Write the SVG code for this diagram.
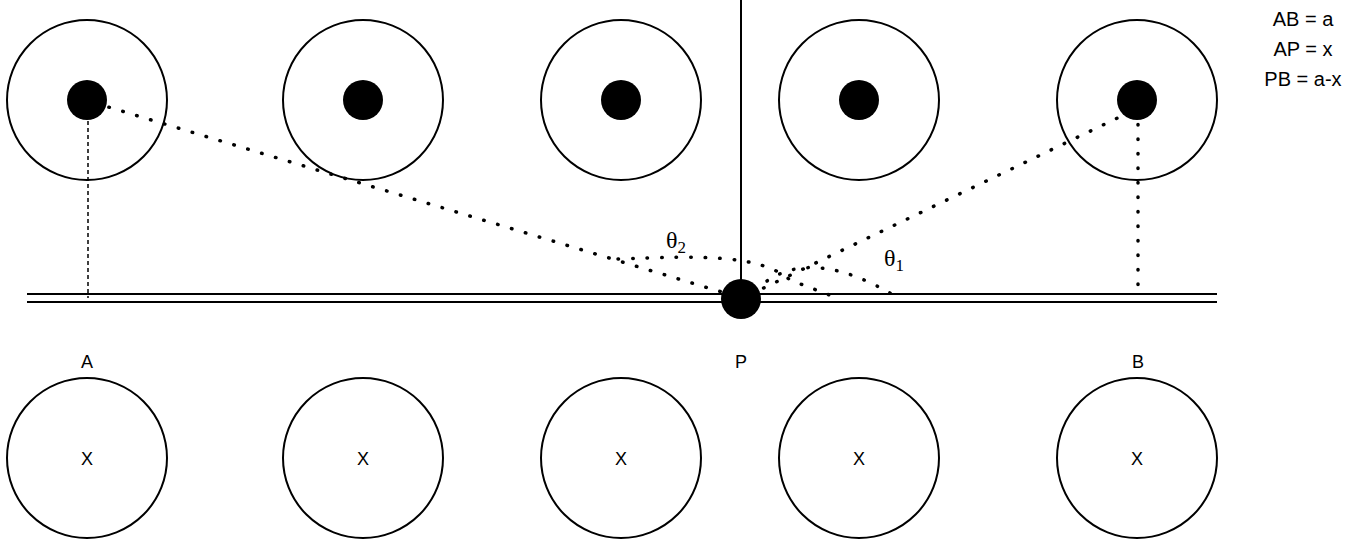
<svg xmlns="http://www.w3.org/2000/svg" width="1353" height="543" viewBox="0 0 1353 543">
<style>
.c{fill:#fff;stroke:#000;stroke-width:2}
.t{font-family:"Liberation Sans",Arial,sans-serif;font-size:18px;fill:#000;text-anchor:middle}
.l{font-family:"Liberation Sans",Arial,sans-serif;font-size:20px;fill:#000;text-anchor:middle}
.th{font-family:"Liberation Serif",serif;font-size:24px;fill:#000}
.d{fill:none;stroke:#000;stroke-width:3.5;stroke-dasharray:0.5 14;stroke-linecap:round}
</style>
<rect width="1353" height="543" fill="#fff"/>
<g id="top">
<g id="t1"><circle class="c" cx="87" cy="100" r="80"/><circle cx="87" cy="100" r="20"/></g>
<g id="t2"><circle class="c" cx="363" cy="100" r="80"/><circle cx="363" cy="100" r="20"/></g>
<g id="t3"><circle class="c" cx="621" cy="100" r="80"/><circle cx="621" cy="100" r="20"/></g>
<g id="t4"><circle class="c" cx="859" cy="100" r="80"/><circle cx="859" cy="100" r="20"/></g>
<g id="t5"><circle class="c" cx="1137" cy="100" r="80"/><circle cx="1137" cy="100" r="20"/></g>
</g>
<g id="bottom">
<g id="b1"><circle class="c" cx="87" cy="458" r="80"/><text class="t" x="87" y="465">X</text></g>
<g id="b2"><circle class="c" cx="363" cy="458" r="80"/><text class="t" x="363" y="465">X</text></g>
<g id="b3"><circle class="c" cx="621" cy="458" r="80"/><text class="t" x="621" y="465">X</text></g>
<g id="b4"><circle class="c" cx="859" cy="458" r="80"/><text class="t" x="859" y="465">X</text></g>
<g id="b5"><circle class="c" cx="1137" cy="458" r="80"/><text class="t" x="1137" y="465">X</text></g>
</g>
<g id="connectors">
<line x1="27" y1="294" x2="1217" y2="294" stroke="#000" stroke-width="2"/>
<line x1="27" y1="302" x2="1217" y2="302" stroke="#000" stroke-width="2"/>
<line x1="741" y1="0" x2="741" y2="298" stroke="#000" stroke-width="2"/>
<line x1="88" y1="100" x2="88" y2="298" stroke="#000" stroke-width="1.5" stroke-dasharray="4 3"/>
<line x1="1138" y1="110" x2="1138" y2="298" class="d" stroke-dasharray="0.5 8"/>
<line x1="95" y1="103" x2="735" y2="296" class="d"/>
<line x1="1130" y1="112" x2="747" y2="296" class="d"/>
<path d="M618 259 C700 256 760 254 790 280 L840 299" class="d"/>
<path d="M767 281 Q815 248 895 296" class="d"/>
</g>
<g id="P"><circle cx="741" cy="299" r="20"/></g>
<text class="t" x="87" y="368">A</text>
<text class="t" x="741" y="368">P</text>
<text class="t" x="1138" y="368">B</text>
<text class="th" x="666" y="248">θ<tspan font-size="17" dy="5">2</tspan></text>
<text class="th" x="884" y="266">θ<tspan font-size="17" dy="5">1</tspan></text>
<text class="l" x="1303" y="26">AB = a</text>
<text class="l" x="1303" y="56">AP = x</text>
<text class="l" x="1303" y="86">PB = a-x</text>
</svg>
